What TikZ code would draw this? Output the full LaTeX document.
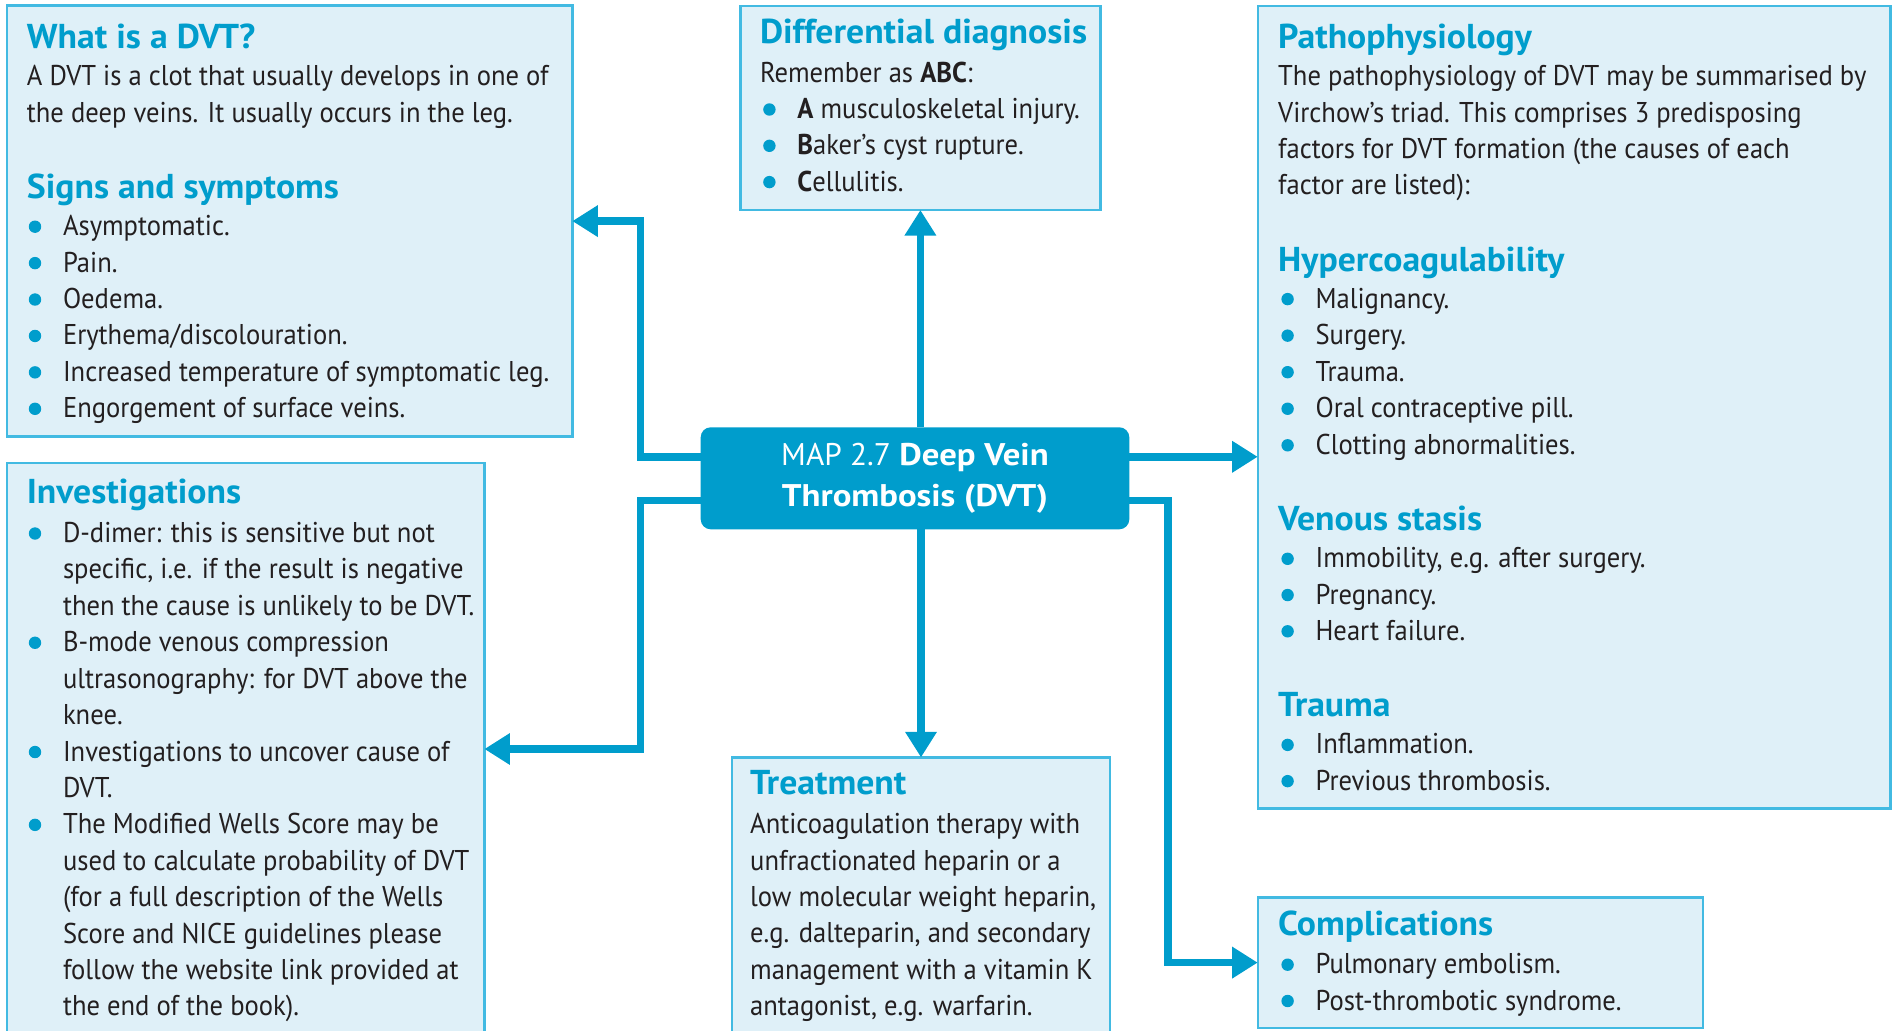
\documentclass[tikz,border=0pt]{standalone}
\usepackage{fontspec}
\setmainfont{PT Sans}[FakeStretch=0.93]
\newfontfamily\headfam{PT Sans}[FakeStretch=1.035]
\newfontfamily\mapfam{PT Sans}[BoldFeatures={FakeStretch=1.11}]
\usetikzlibrary{arrows.meta,calc}

\definecolor{acc}{RGB}{0,157,204}
\definecolor{boxfill}{RGB}{223,240,248}
\definecolor{boxline}{RGB}{66,186,226}
\definecolor{ink}{RGB}{35,31,32}

\newcommand\bodyfont{\fontsize{28.6}{36.4}\selectfont}
\newcommand\headfont{\headfam\fontsize{34.5}{36.4}\selectfont\bfseries}
\newcommand\mapfont{\mapfam\fontsize{31.3}{41.6}\selectfont}

\tikzset{
  panel/.style={draw=boxline, line width=2.4pt, fill=boxfill, rectangle,
    inner sep=0pt, outer sep=0pt, anchor=north west},
  hd/.style={anchor=base west, inner sep=0pt, text=acc, font=\headfont},
  tx/.style={anchor=base west, inner sep=0pt, text=ink, font=\bodyfont},
  mapbox/.style={fill=acc, rounded corners=10pt, text=white, align=center,
    font=\mapfont, inner sep=0pt, outer sep=0pt,
    minimum width=428.6pt, minimum height=102pt},
  conn/.style={draw=acc, line width=7.5pt, -{Triangle[length=25.5pt,width=30pt]}},
}

\begin{document}
\begin{tikzpicture}[x=1pt,y=-1pt]
\useasboundingbox (0,0) rectangle (1894,1030);

% ---------- panels ----------
\node[panel, minimum width=565.6pt, minimum height=430.8pt] (what)  at (6.7,5.7) {};
\node[panel, minimum width=360pt,   minimum height=204pt]   (diff)  at (740.4,6) {};
\node[panel, minimum width=632.7pt, minimum height=802.5pt] (patho) at (1257.7,6) {};
\node[panel, minimum width=477.4pt, minimum height=572pt]   (inv)   at (7,463) {};
\node[panel, minimum width=378pt,   minimum height=282.6pt] (treat) at (732,757.4) {};
\node[panel, minimum width=445.3pt, minimum height=130.2pt] (comp)  at (1257.7,897.5) {};

% ---------- central topic ----------
\node[mapbox] (map) at (915,478.3)
  {MAP 2.7 \textbf{Deep Vein}\\\textbf{Thrombosis (DVT)}};

% ---------- connectors ----------
\draw[conn] (diff.south |- map.north) -- (diff.south);
\draw[conn] (treat.north |- map.south) -- (treat.north);
\draw[conn] ([yshift=21.5pt]map.west) -- ++(-60.2,0) |- (what.east);
\draw[conn] ([yshift=-22pt]map.west) -- ++(-60.2,0) |- (inv.east);
\draw[conn] ([yshift=21.5pt]map.east) -- ([yshift=21.5pt]map.east -| patho.west);
\draw[conn] ([yshift=-22pt]map.east) -- ++(38.7,0) |- (comp.west);

% ---------- What is a DVT? / Signs and symptoms ----------
\node[hd] (whatH) at (26.7,48.4) {What is a DVT?};
\node[tx] (whatA) at (26.7,86) {A DVT is a clot that usually develops in one of};
\node[tx] (whatB) at (26.7,122.4) {the deep veins. It usually occurs in the leg.};
\node[hd] (signsH) at (26.7,198) {Signs and symptoms};
\foreach \itm [count=\i from 0] in {Asymptomatic., Pain., Oedema.,
    Erythema/discolouration., Increased temperature of symptomatic leg.,
    Engorgement of surface veins.}{
  \pgfmathsetmacro\yy{235.7+36.42*\i}
  \fill[acc] (35,\yy-9) circle (6.2pt);
  \node[tx] (sign\i) at (62.8,\yy) {\itm};
}

% ---------- Differential diagnosis ----------
\node[hd] (diffH) at (759.8,43.6) {Differential diagnosis};
\node[tx] (diffA) at (759.8,82.3) {Remember as \textbf{ABC}:};
\foreach \itm [count=\i from 0] in {{\textbf{A} musculoskeletal injury.},
    {\textbf{B}aker’s cyst rupture.}, {\textbf{C}ellulitis.}}{
  \pgfmathsetmacro\yy{118.5+36.3*\i}
  \fill[acc] (769.4,\yy-9) circle (6.2pt);
  \node[tx] (ddx\i) at (797.2,\yy) {\itm};
}

% ---------- Pathophysiology ----------
\node[hd] (pathoH) at (1278,48.4) {Pathophysiology};
\foreach \itm [count=\i from 0] in {The pathophysiology of DVT may be summarised by,
    Virchow’s triad. This comprises 3 predisposing,
    factors for DVT formation (the causes of each,
    {factor are listed):}}{
  \pgfmathsetmacro\yy{85.9+36.25*\i}
  \node[tx] (pathoL\i) at (1278,\yy) {\itm};
}
\node[hd] (hyperH) at (1278,271.9) {Hypercoagulability};
\foreach \itm [count=\i from 0] in {Malignancy., Surgery., Trauma.,
    Oral contraceptive pill., Clotting abnormalities.}{
  \pgfmathsetmacro\yy{308.1+36.55*\i}
  \fill[acc] (1287.6,\yy-9) circle (6.2pt);
  \node[tx] (hyper\i) at (1315.4,\yy) {\itm};
}
\node[hd] (stasisH) at (1278,530.4) {Venous stasis};
\foreach \itm [count=\i from 0] in {{Immobility, e.g. after surgery.},
    Pregnancy., Heart failure.}{
  \pgfmathsetmacro\yy{567.8+36.25*\i}
  \fill[acc] (1287.6,\yy-9) circle (6.2pt);
  \node[tx] (stasis\i) at (1315.4,\yy) {\itm};
}
\node[hd] (traumaH) at (1278,716.4) {Trauma};
\foreach \itm [count=\i from 0] in {Inflammation., Previous thrombosis.}{
  \pgfmathsetmacro\yy{753.9+36.25*\i}
  \fill[acc] (1287.6,\yy-9) circle (6.2pt);
  \node[tx] (trauma\i) at (1315.4,\yy) {\itm};
}

% ---------- Investigations ----------
\node[hd] (invH) at (26.6,503.8) {Investigations};
\foreach \b/\itm [count=\i from 0] in {
    1/{D-dimer: this is sensitive but not},
    0/{specific, i.e. if the result is negative},
    0/{then the cause is unlikely to be DVT.},
    1/{B-mode venous compression},
    0/{ultrasonography: for DVT above the},
    0/{knee.},
    1/{Investigations to uncover cause of},
    0/{DVT.},
    1/{The Modified Wells Score may be},
    0/{used to calculate probability of DVT},
    0/{(for a full description of the Wells},
    0/{Score and NICE guidelines please},
    0/{follow the website link provided at},
    0/{the end of the book).}}{
  \pgfmathsetmacro\yy{542.5+36.42*\i}
  \ifnum\b=1 \fill[acc] (35,\yy-9) circle (6.2pt);\fi
  \node[tx] (inv\i) at (62.8,\yy) {\itm};
}

% ---------- Treatment ----------
\node[hd] (treatH) at (750,794.9) {Treatment};
\foreach \itm [count=\i from 0] in {Anticoagulation therapy with,
    unfractionated heparin or a,
    {low molecular weight heparin,},
    {e.g. dalteparin, and secondary},
    management with a vitamin K,
    {antagonist, e.g. warfarin.}}{
  \pgfmathsetmacro\yy{833.6+36.42*\i}
  \node[tx] (treat\i) at (750,\yy) {\itm};
}

% ---------- Complications ----------
\node[hd] (compH) at (1278,935) {Complications};
\foreach \itm [count=\i from 0] in {Pulmonary embolism., Post-thrombotic syndrome.}{
  \pgfmathsetmacro\yy{973.7+36.3*\i}
  \fill[acc] (1287.6,\yy-9) circle (6.2pt);
  \node[tx] (comp\i) at (1315.4,\yy) {\itm};
}
\end{tikzpicture}
\end{document}
